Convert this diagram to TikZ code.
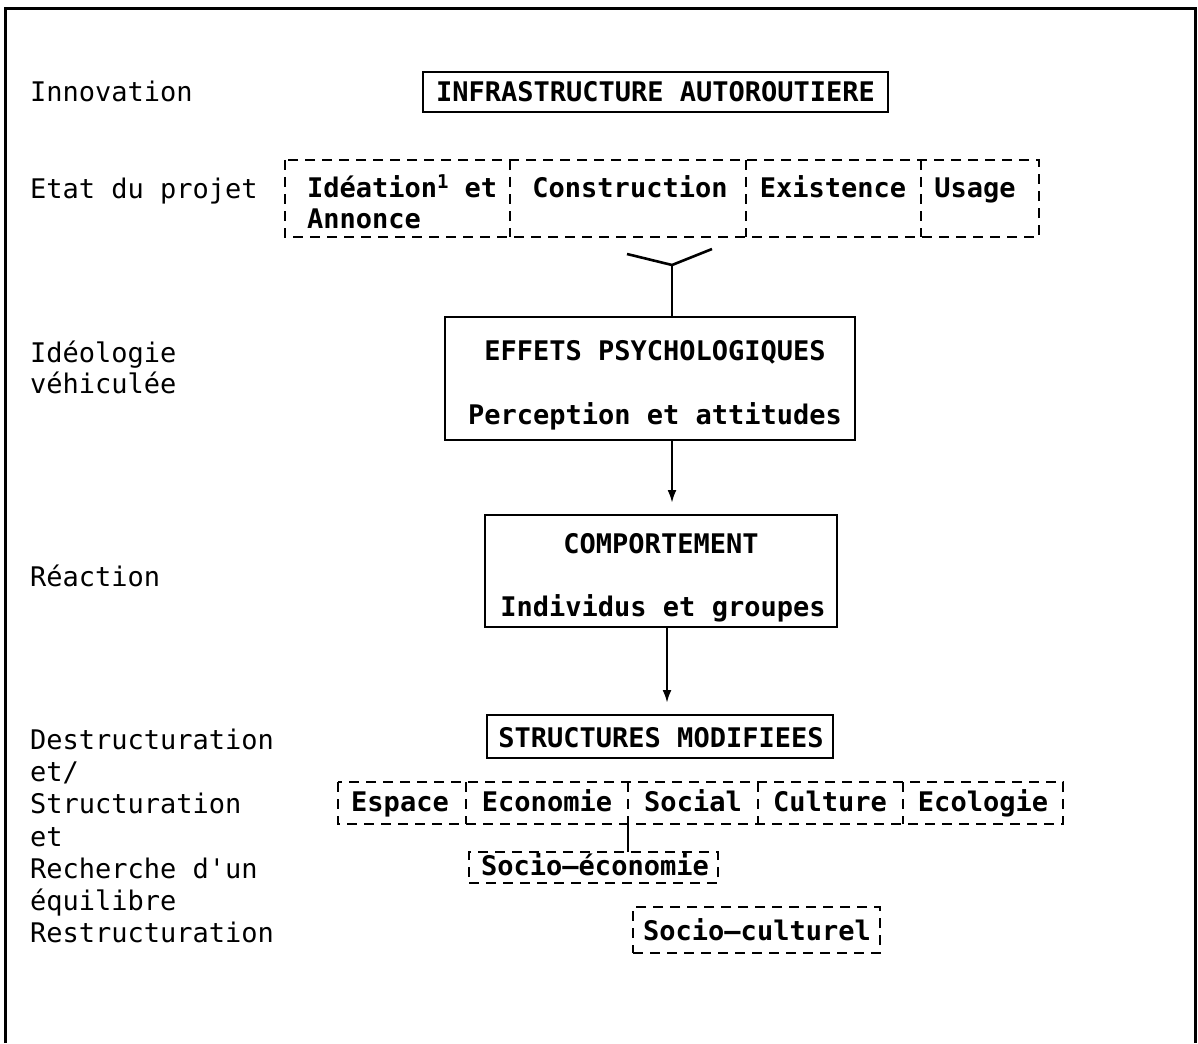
\documentclass[tikz,border=0pt]{standalone}
\usepackage{fontspec}
\setmonofont{DejaVu Sans Mono}
\usetikzlibrary{arrows.meta}

\begin{document}
\begin{tikzpicture}[x=1pt,y=-1pt,
  every node/.style={inner sep=0pt, outer sep=0pt},
  lbl/.style={anchor=base west, font=\ttfamily\fontsize{27}{31}\selectfont},
  btxt/.style={anchor=base, font=\ttfamily\bfseries\fontsize{27}{31}\selectfont},
  solidbox/.style={draw, line width=2.8pt, rectangle},
  cell/.style={rectangle},
  dashline/.style={line width=2.2pt, dash pattern=on 10pt off 7pt},
  link/.style={line width=2.6pt},
  arr/.style={line width=2.4pt, -{Latex[length=13pt,width=9pt]}, shorten >=12pt}
]
\useasboundingbox (0,0) rectangle (1198,1043);

% page frame, open at the bottom
\draw[line width=3pt] (5,1043) -- (5,9) -- (1195,9) -- (1195,1043);

% left column
\node[lbl] (l1) at (30,102) {Innovation};
\node[lbl] (l2) at (30,198) {Etat du projet};
\node[lbl] (l3) at (30,362) {Idéologie};
\node[lbl] (l4) at (30,393) {véhiculée};
\node[lbl] (l5) at (30,586) {Réaction};
\node[lbl] (l6) at (30,749) {Destructuration};
\node[lbl] (l7) at (30,781) {et/};
\node[lbl] (l8) at (30,813) {Structuration};
\node[lbl] (l9) at (30,846) {et};
\node[lbl] (l10) at (30,878) {Recherche d'un};
\node[lbl] (l11) at (30,910) {équilibre};
\node[lbl] (l12) at (30,942) {Restructuration};

% innovation
\node[solidbox, minimum width=465pt, minimum height=40pt] (infra) at (655.5,92) {};
\node[btxt] (tinfra) at (655.5,102) {INFRASTRUCTURE AUTOROUTIERE};

% project states: one dashed strip split into cells
\node[cell, minimum width=225pt, minimum height=77pt] (ide) at (397.5,198.5) {};
\node[cell, minimum width=236pt, minimum height=77pt] (cons) at (628,198.5) {};
\node[cell, minimum width=175pt, minimum height=77pt] (exis) at (833.5,198.5) {};
\node[cell, minimum width=118pt, minimum height=77pt] (usag) at (980,198.5) {};
\draw[dashline] (ide.north west) rectangle (usag.south east);
\draw[dashline] (cons.north west) -- (cons.south west);
\draw[dashline] (exis.north west) -- (exis.south west);
\draw[dashline] (usag.north west) -- (usag.south west);
\node[btxt, anchor=base west] (tide) at (307,197) {Idéation\raisebox{9pt}{\fontsize{19}{19}\selectfont 1} et};
\node[btxt, anchor=base west] (tann) at (307,228) {Annonce};
\node[btxt] (tcons) at (630,197) {Construction};
\node[btxt] (texis) at (833,197) {Existence};
\node[btxt] (tusag) at (975,197) {Usage};

% joining fork
\coordinate (yj) at (672,265);
\coordinate (ya) at (627,254);
\coordinate (yb) at (712,249);
\draw[link] (ya) -- (yj) -- (yb);

% psychological effects
\node[solidbox, minimum width=410pt, minimum height=123pt] (eff) at (650,378.5) {};
\node[btxt] (teff1) at (655,360) {EFFETS PSYCHOLOGIQUES};
\node[btxt] (teff2) at (655,424) {Perception et attitudes};
\draw[link] (yj) -- (yj |- eff.north);

% behaviour
\node[solidbox, minimum width=352pt, minimum height=112pt] (comp) at (661,571) {};
\node[btxt] (tcomp1) at (661,553) {COMPORTEMENT};
\node[btxt] (tcomp2) at (663,616) {Individus et groupes};
\draw[arr] (eff.south -| yj) -- (comp.north -| yj);

% modified structures
\node[solidbox, minimum width=346pt, minimum height=43pt] (struc) at (660,736.5) {};
\node[btxt] (tstruc) at (661,747) {STRUCTURES MODIFIEES};
\coordinate (ax) at (667,0);
\draw[arr] (comp.south -| ax) -- (struc.north -| ax);

% domains: one dashed strip split into cells
\node[cell, minimum width=128pt, minimum height=42pt] (esp) at (402,803) {};
\node[cell, minimum width=162pt, minimum height=42pt] (eco) at (547,803) {};
\node[cell, minimum width=130pt, minimum height=42pt] (soc) at (693,803) {};
\node[cell, minimum width=145pt, minimum height=42pt] (cul) at (830.5,803) {};
\node[cell, minimum width=160pt, minimum height=42pt] (ecol) at (983,803) {};
\draw[dashline] (esp.north west) rectangle (ecol.south east);
\foreach \c in {eco,soc,cul,ecol}
  \draw[dashline] (\c.north west) -- (\c.south west);
\node[btxt] (tesp) at (400,811) {Espace};
\node[btxt] (teco) at (547,811) {Economie};
\node[btxt] (tsoc) at (693,811) {Social};
\node[btxt] (tcul) at (830,811) {Culture};
\node[btxt] (tecol) at (983,811) {Ecologie};

% combined domains
\node[cell, draw, dashline, minimum width=249pt, minimum height=31pt] (seco) at (593.5,867.5) {};
\node[btxt] (tseco) at (595,875) {Socio–économie};
\node[cell, draw, dashline, minimum width=247pt, minimum height=46pt] (scul) at (756.5,930) {};
\node[btxt] (tscul) at (757,940) {Socio–culturel};
\draw[link] (eco.south east) -- (seco.north -| eco.south east);

\end{tikzpicture}
\end{document}
